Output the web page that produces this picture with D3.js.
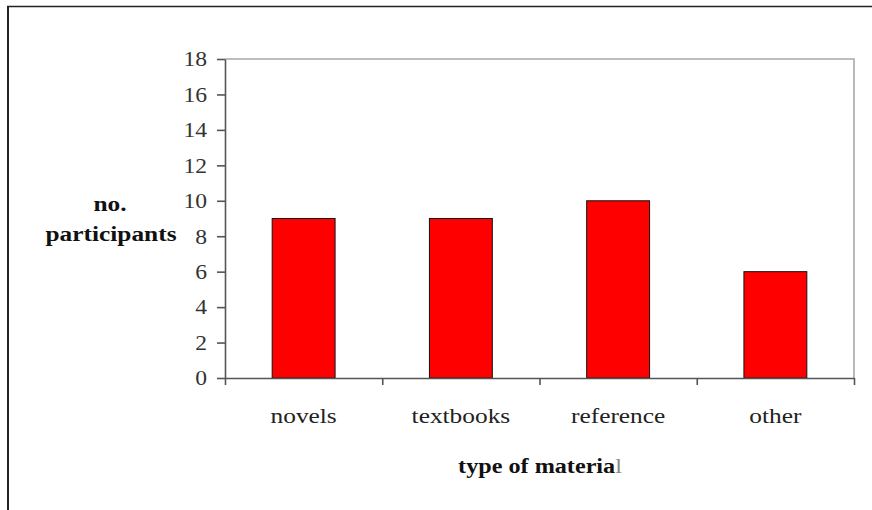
<!DOCTYPE html>
<html>
<head>
<meta charset="utf-8">
<script src="https://cdn.jsdelivr.net/npm/d3@7"></script>
<style>
  html, body { margin: 0; padding: 0; background: #fff; }
  svg { display: block; }
  text { font-family: "Liberation Serif", "Times New Roman", serif; }
</style>
</head>
<body>
<svg id="chart" width="872" height="510"></svg>
<script>
// Reading material preferences
const categories = ["novels", "textbooks", "reference", "other"];
const participants = [9, 9, 10, 6];
const yTicks = [0, 2, 4, 6, 8, 10, 12, 14, 16, 18];
const yTitle = ["no.", "participants"];
const xTitle = "type of materia";
const xTitleTail = "l";

const W = 872, H = 510;
const plot = { left: 225, right: 854, top: 59, bottom: 378 };
const SX = 1.18; // glyphs are drawn slightly wide

const svg = d3.select("#chart");

// outer frame: left and top edges
svg.append("line").attr("x1", 8).attr("x2", 8).attr("y1", 6).attr("y2", H)
  .attr("stroke", "#222").attr("stroke-width", 2);
svg.append("line").attr("x1", 7).attr("x2", W).attr("y1", 6.5).attr("y2", 6.5)
  .attr("stroke", "#222").attr("stroke-width", 1.6);

const y = d3.scaleLinear().domain([0, 18]).range([plot.bottom, plot.top]);
const x = d3.scaleBand().domain(categories).range([plot.left, plot.right])
  .paddingInner(0.6).paddingOuter(0.3);
const xEdges = d3.scaleLinear().domain([0, categories.length]).range([plot.left, plot.right]);

// plot frame (top and right)
svg.append("path")
  .attr("d", `M${plot.left},${plot.top}H${plot.right}V${plot.bottom}`)
  .attr("fill", "none").attr("stroke", "#a8a8a8").attr("stroke-width", 1.6);

// bars
svg.append("g").selectAll("rect")
  .data(categories)
  .join("rect")
  .attr("x", d => x(d))
  .attr("width", x.bandwidth())
  .attr("y", (d, i) => y(participants[i]))
  .attr("height", (d, i) => y(0) - y(participants[i]))
  .attr("fill", "#ff0000")
  .attr("stroke", "#111")
  .attr("stroke-width", 1);

// y axis
const yAxis = svg.append("g")
  .attr("transform", `translate(${plot.left},0)`)
  .call(d3.axisLeft(y).tickValues(yTicks).tickSizeInner(8).tickSizeOuter(0).tickFormat(d3.format("d")));
yAxis.select(".domain").attr("stroke", "#555").attr("stroke-width", 1.6);
yAxis.selectAll(".tick line").attr("stroke", "#555").attr("stroke-width", 1.6);
yAxis.selectAll(".tick text")
  .attr("x", null).attr("dy", "0.34em")
  .attr("transform", `translate(-18,0) scale(${SX},1)`)
  .attr("font-size", 20).attr("fill", "#333")
  .style("font-family", "'Liberation Serif', serif");

// x axis: ticks at category boundaries
const xAxis = svg.append("g")
  .attr("transform", `translate(0,${plot.bottom})`)
  .call(d3.axisBottom(xEdges).tickValues(d3.range(categories.length + 1))
    .tickSizeInner(7).tickSizeOuter(0).tickFormat(""));
xAxis.select(".domain").attr("stroke", "#555").attr("stroke-width", 1.6);
xAxis.selectAll(".tick line").attr("stroke", "#555").attr("stroke-width", 1.6);

// category labels
const xLabels = svg.append("g")
  .attr("transform", `translate(0,${plot.bottom})`)
  .call(d3.axisBottom(x).tickSize(0));
xLabels.select(".domain").remove();
xLabels.selectAll(".tick text")
  .attr("y", null).attr("dy", null)
  .attr("transform", `translate(0,45) scale(${SX},1)`)
  .attr("font-size", 21.5).attr("fill", "#222")
  .style("font-family", "'Liberation Serif', serif");

// axis titles
function label(tx, ty, txt, size, weight) {
  return svg.append("text")
    .attr("transform", `translate(${tx},${ty}) scale(${SX},1)`)
    .attr("text-anchor", "middle")
    .attr("font-size", size)
    .attr("font-weight", weight)
    .attr("fill", "#111")
    .text(txt);
}
label(110, 211, yTitle[0], 21.5, "bold");
label(111, 241, yTitle[1], 21.5, "bold");

const xt = svg.append("text")
  .attr("transform", `translate(540,473) scale(${SX},1)`)
  .attr("text-anchor", "middle")
  .attr("font-size", 20.5)
  .attr("fill", "#111");
xt.append("tspan").attr("font-weight", "bold").text(xTitle);
xt.append("tspan").attr("fill", "#888").text(xTitleTail);
</script>
</body>
</html>
